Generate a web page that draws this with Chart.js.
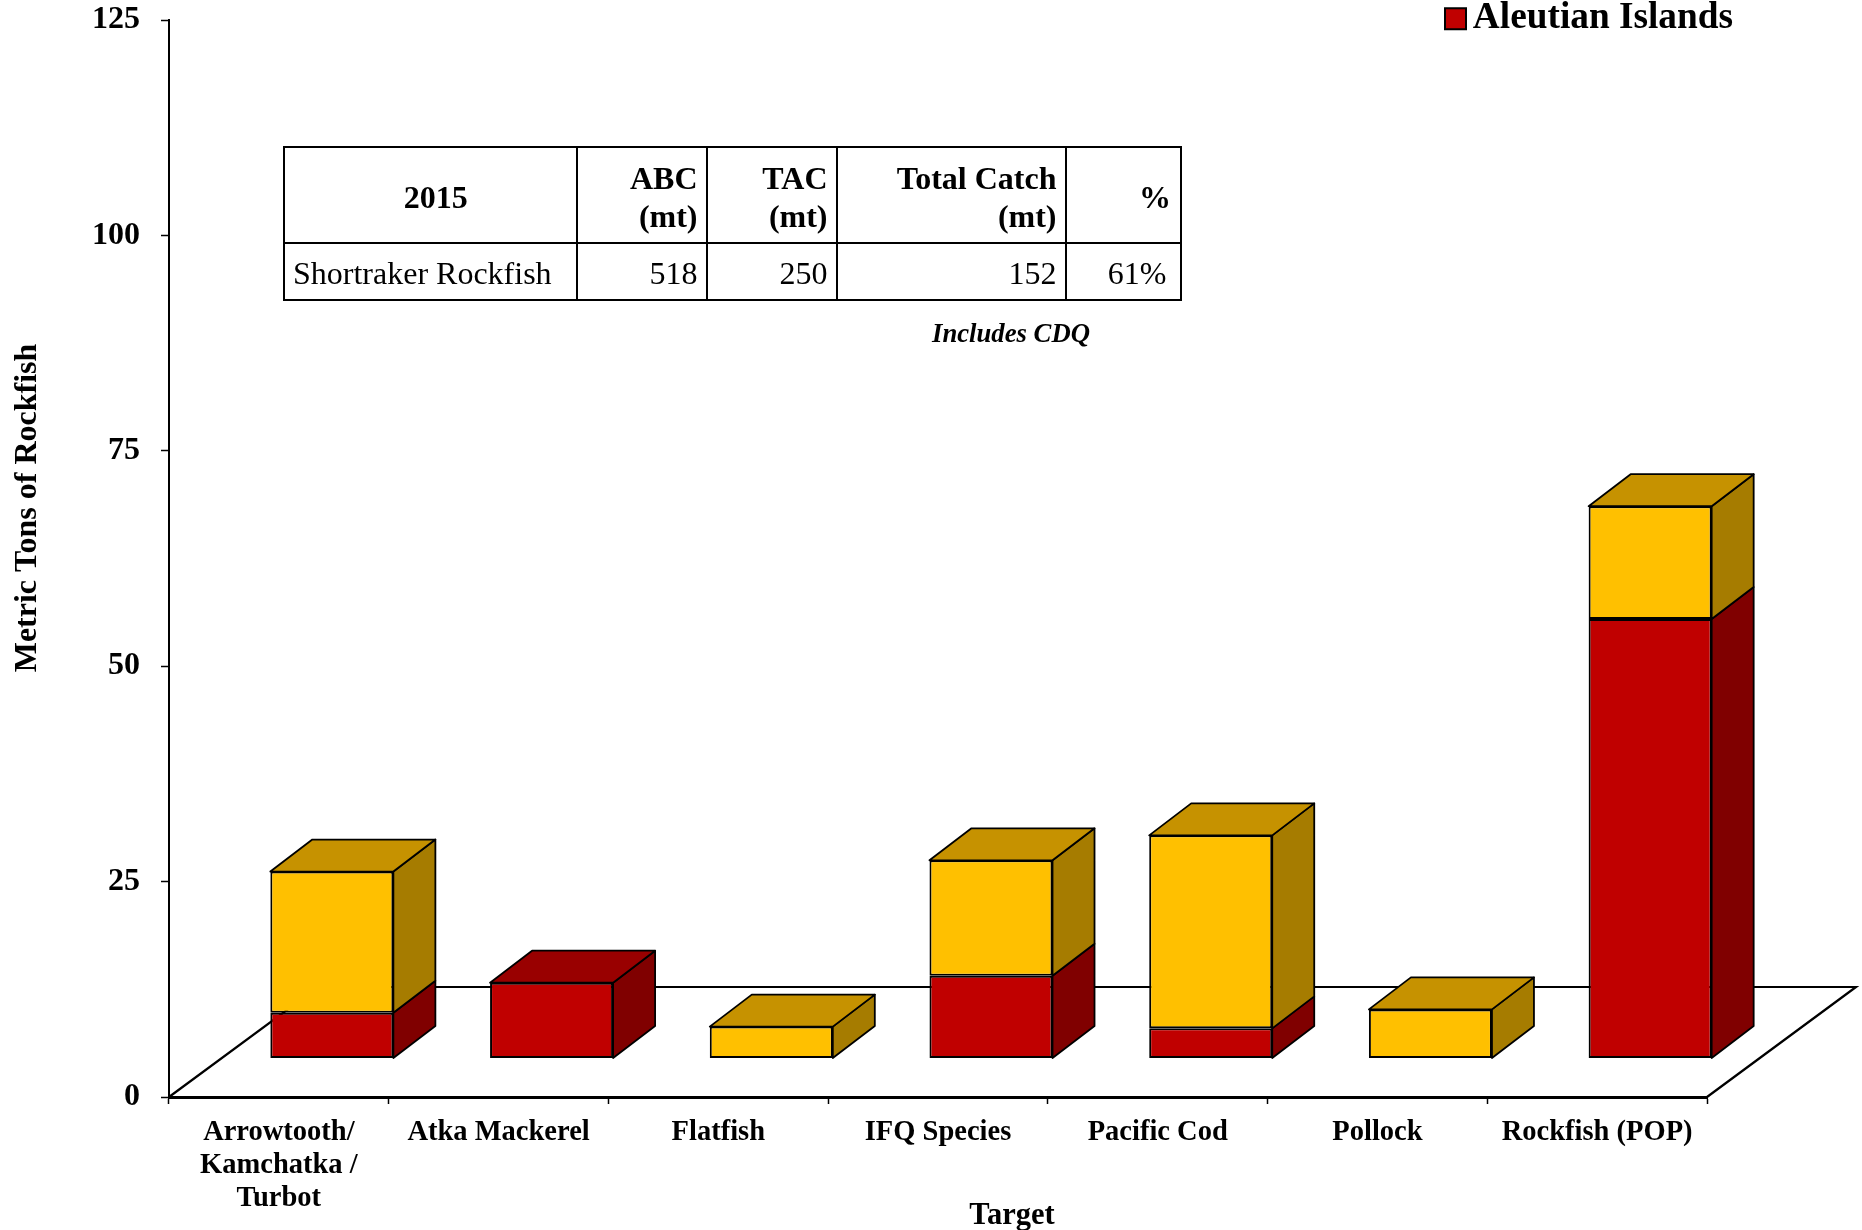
<!DOCTYPE html>
<html>
<head>
<meta charset="utf-8">
<title>Shortraker Rockfish by Target</title>
<script src="https://cdn.jsdelivr.net/npm/chart.js@4"></script>
<style>
html,body{margin:0;padding:0;background:#fff;}
#wrap{position:relative;width:1862px;height:1230px;overflow:hidden;font-family:"Liberation Serif",serif;color:#000;}
canvas{position:absolute;left:0;top:0;display:block;}
table{position:absolute;left:282.5px;top:146px;width:897px;border-collapse:collapse;table-layout:fixed;font-size:32px;line-height:38px;}
td,th{border:2.5px solid #000;padding:3px 8.5px 0 8.5px;text-align:right;box-sizing:border-box;}
th{font-weight:bold;height:96px;}
td{height:57px;}
th.c{text-align:center;padding-left:20px;}
.l{text-align:left;}
#note{position:absolute;left:860px;top:318px;width:302px;text-align:center;font:italic bold 26.7px "Liberation Serif",serif;}
</style>
</head>
<body>
<div id="wrap">
<canvas id="c" width="1862" height="1230"></canvas>
<table id="t"></table>
<div id="note"></div>
</div>
<script>
const categories = [['Arrowtooth/','Kamchatka /','Turbot'],'Atka Mackerel','Flatfish','IFQ Species','Pacific Cod','Pollock','Rockfish (POP)'];
const aleutianIslands = [5.3, 8.8, null, 9.6, 3.5, null, 51.0];
const beringSea = [16.4, null, 3.7, 13.4, 22.4, 5.7, 13.1];
const yTicks = [0, 25, 50, 75, 100, 125];
const tableHeader = ['2015', ['ABC','(mt)'], ['TAC','(mt)'], ['Total Catch','(mt)'], '%'];
const tableRow = ['Shortraker Rockfish', '518', '250', '152', '61%'];
const tableNote = 'Includes CDQ';
const yTitle = 'Metric Tons of Rockfish';
const xTitle = 'Target';

const colWidths = [293,130.5,130,229,114.5];
const t = document.getElementById('t');
const cg = colWidths.map(w=>`<col style="width:${w}px">`).join('');
t.innerHTML = `<colgroup>${cg}</colgroup><tr>` + tableHeader.map((h,i)=>`<th class="${i===0?'c':''}">${[].concat(h).join('<br>')}</th>`).join('') + '</tr><tr>' +
  tableRow.map((c,i)=>`<td class="${i===0?'l':''}" ${i===4?'style="padding-right:13px"':''}>${c}</td>`).join('') + '</tr>';
document.getElementById('note').textContent = tableNote;

const DEPTH = {x: 149, y: 110};
const BAR_SHIFT = {x: 53, y: 38.5};
const BAR_DEPTH = {x: 42, y: 32};
const FACES = [{top:'#990000', side:'#800000'},{top:'#C69200', side:'#A67C00'}];

const box3d = {
  id: 'box3d',
  beforeDatasetsDraw(chart){
    const {ctx, chartArea:a} = chart;
    ctx.save();
    ctx.strokeStyle = '#000'; ctx.lineWidth = 2.2; ctx.lineJoin='miter';
    ctx.beginPath();
    ctx.moveTo(a.left, a.bottom);
    ctx.lineTo(a.left+DEPTH.x, a.bottom-DEPTH.y);
    ctx.lineTo(a.right+DEPTH.x, a.bottom-DEPTH.y);
    ctx.lineTo(a.right, a.bottom);
    ctx.stroke();
    ctx.restore();
    ctx.save();
    ctx.translate(BAR_SHIFT.x, -BAR_SHIFT.y);
  },
  afterDatasetsDraw(chart){
    const ctx = chart.ctx;
    const metas = chart.getSortedVisibleDatasetMetas();
    const poly = (pts, fill)=>{
      ctx.beginPath();
      pts.forEach((p,i)=> i?ctx.lineTo(p[0],p[1]):ctx.moveTo(p[0],p[1]));
      ctx.closePath();
      ctx.fillStyle = fill; ctx.fill();
      ctx.strokeStyle='#000'; ctx.lineWidth=1.8; ctx.lineJoin='round'; ctx.stroke();
    };
    categories.forEach((_,i)=>{
      let topIdx = -1;
      metas.forEach((m,k)=>{ if(chart.data.datasets[m.index].data[i]!=null) topIdx=k; });
      metas.forEach((m,k)=>{
        if(chart.data.datasets[m.index].data[i]==null) return;
        const b = m.data[i], L=b.x-b.width/2, R=b.x+b.width/2, d=BAR_DEPTH;
        poly([[R,b.y],[R+d.x,b.y-d.y],[R+d.x,b.base-d.y],[R,b.base]], FACES[m.index].side);
        if(k===topIdx) poly([[L,b.y],[L+d.x,b.y-d.y],[R+d.x,b.y-d.y],[R,b.y]], FACES[m.index].top);
      });
    });
    ctx.restore();
  },
  afterLayout(chart){
    const lg = chart.legend;
    lg.left = 1444; lg.right = 1733; lg.top = -1; lg.bottom = 40; lg.width = 289; lg.height = 41;
  },
  afterDraw(chart){
    const ctx = chart.ctx;
    ctx.save();
    ctx.fillStyle='#000';
    ctx.textAlign='center'; ctx.textBaseline='middle';
    ctx.font='bold 30.5px "Liberation Serif"';
    ctx.fillText(xTitle, 1012, 1216);
    ctx.font='bold 32px "Liberation Serif"';
    ctx.translate(28, 508); ctx.rotate(-Math.PI/2);
    ctx.fillText(yTitle, 0, 0);
    ctx.restore();
  }
};

new Chart(document.getElementById('c'), {
  type:'bar',
  data:{ labels:categories, datasets:[
    {label:'Aleutian Islands', data:aleutianIslands, backgroundColor:'#C00000', borderColor:'#000', borderWidth:2, borderSkipped:false, clip:false, stack:'s'},
    {label:'Bering Sea', data:beringSea, backgroundColor:'#FFC000', borderColor:'#000', borderWidth:2, borderSkipped:false, clip:false, stack:'s'}
  ]},
  options:{
    responsive:false, animation:false, devicePixelRatio:1,
    layout:{padding:{left:0,top:20,right:155,bottom:0}},
    datasets:{bar:{categoryPercentage:1,barPercentage:0.56}},
    plugins:{
      title:{display:false}, tooltip:{enabled:false},
      legend:{display:true, position:'chartArea', align:'start',
        labels:{boxWidth:21, boxHeight:21, padding:1, textAlign:'right', color:'#000',
          font:{family:'"Liberation Serif"', weight:'bold', size:37.3},
          filter:it=>it.datasetIndex===0}}
    },
    scales:{
      x:{stacked:true, afterFit(s){s.height=133;},
        grid:{drawOnChartArea:false, drawTicks:true, tickLength:7, tickColor:'#000', tickWidth:1.5},
        border:{color:'#000', width:3},
        ticks:{color:'#000', maxRotation:0, minRotation:0, autoSkip:false, padding:12,
          font:{family:'"Liberation Serif"', weight:'bold', size:28.5, lineHeight:1.158}}},
      y:{stacked:true, min:0, max:125, afterFit(s){s.width=169; s.paddingTop=0; s.paddingBottom=0;},
        afterBuildTicks(s){s.ticks=yTicks.map(v=>({value:v}));},
        grid:{drawOnChartArea:false, drawTicks:true, tickLength:8, tickColor:'#000', tickWidth:1.5},
        border:{color:'#000', width:2},
        ticks:{color:'#000', padding:21, font:{family:'"Liberation Serif"', weight:'bold', size:32}}}
    }
  },
  plugins:[box3d]
});
</script>
</body>
</html>
